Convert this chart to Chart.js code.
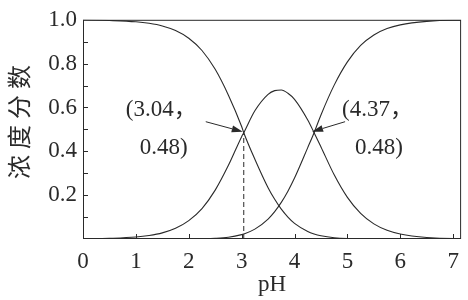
<!DOCTYPE html>
<html>
<head>
<meta charset="utf-8">
<script src="https://cdn.jsdelivr.net/npm/chart.js@4/dist/chart.umd.min.js"></script>
<style>
    html, body { margin: 0; padding: 0; background: #fff; }
</style>
</head>
<body>
<canvas id="myCanvas" width="468" height="300"></canvas>
<script>
'use strict';

// pH values
var ph = [0, 0.5, 1, 1.25, 1.5, 1.75, 2, 2.25, 2.5, 2.75, 3, 3.04, 3.25, 3.5, 3.625, 3.75, 3.875, 4, 4.25, 4.37, 4.5, 4.75, 5, 5.25, 5.5, 5.75, 6, 6.5, 7, 7.15];
// fraction curves (H2A falling, HA- hump, A2- rising)
var h2a = [1.0, 0.997, 0.991, 0.984, 0.972, 0.951, 0.916, 0.860, 0.774, 0.656, 0.513, 0.485, 0.364, 0.234, 0.181, 0.136, 0.100, 0.071, 0.034, 0.023, 0.015, 0.006, 0.002, 0.001, 0, 0, 0, 0, 0, 0];
var ha = [0, 0.003, 0.009, 0.016, 0.028, 0.049, 0.084, 0.139, 0.223, 0.336, 0.467, 0.485, 0.585, 0.660, 0.677, 0.680, 0.665, 0.637, 0.543, 0.485, 0.420, 0.293, 0.190, 0.117, 0.069, 0.040, 0.023, 0.007, 0.002, 0.002];
var a2 = [0, 0, 0, 0, 0, 0, 0, 0.001, 0.003, 0.008, 0.020, 0.023, 0.045, 0.091, 0.125, 0.167, 0.218, 0.278, 0.417, 0.485, 0.566, 0.702, 0.808, 0.883, 0.931, 0.960, 0.977, 0.993, 0.998, 0.998];

// dashed drop line at the first crossing
var dropX = [3.04, 3.04];
var dropY = [0, 0.485];

// marked points and their labels
var marks = [
    { x: 3.04, y: 0.485, lines: ['(3.04，', '0.48)'] },
    { x: 4.37, y: 0.485, lines: ['(4.37，', '0.48)'] }
];

var xTicks = [0, 1, 2, 3, 4, 5, 6, 7];
var yMinor = [0.1, 0.2, 0.3, 0.4, 0.5, 0.6, 0.7, 0.8, 0.9];
var yTitle = '浓度分数';
var xTitle = 'pH';

var ink = '#2a2a2a';
var serif = "'Liberation Serif', 'Noto Sans CJK SC', serif";

function pts(xs, ys) {
    return xs.map(function (x, i) { return { x: x, y: ys[i] }; });
}

function curve(ys) {
    return {
        data: pts(ph, ys),
        borderColor: ink,
        borderWidth: 1.1,
        pointRadius: 0,
        fill: false,
        cubicInterpolationMode: 'monotone'
    };
}

function arrow(ctx, x1, y1, x2, y2) {
    var a = Math.atan2(y2 - y1, x2 - x1), len = 11, w = 3.5;
    ctx.beginPath();
    ctx.moveTo(x1, y1);
    ctx.lineTo(x2 - Math.cos(a) * len, y2 - Math.sin(a) * len);
    ctx.stroke();
    ctx.beginPath();
    ctx.moveTo(x2, y2);
    ctx.lineTo(x2 - Math.cos(a) * len - Math.sin(a) * w, y2 - Math.sin(a) * len + Math.cos(a) * w);
    ctx.lineTo(x2 - Math.cos(a) * len + Math.sin(a) * w, y2 - Math.sin(a) * len - Math.cos(a) * w);
    ctx.closePath();
    ctx.fill();
}

// frame, inward ticks, y title and the two callouts
var decor = {
    id: 'decor',
    afterDatasetsDraw: function (chart) {
        var ctx = chart.ctx, area = chart.chartArea,
            xs = chart.scales.x, ys = chart.scales.y;
        ctx.save();
        ctx.strokeStyle = ink;
        ctx.fillStyle = ink;
        ctx.lineWidth = 1;
        ctx.strokeRect(area.left + 0.5, area.top + 0.5, area.right - area.left - 1, area.bottom - area.top - 1);

        ctx.beginPath();
        xTicks.forEach(function (v) {
            var px = Math.round(xs.getPixelForValue(v)) + 0.5;
            ctx.moveTo(px, area.bottom);
            ctx.lineTo(px, area.bottom - 5);
        });
        yMinor.forEach(function (v) {
            var py = Math.round(ys.getPixelForValue(v)) + 0.5;
            ctx.moveTo(area.left, py);
            ctx.lineTo(area.left + 5, py);
        });
        ctx.stroke();

        // y title, spaced characters
        ctx.save();
        ctx.translate(19, 122);
        ctx.rotate(-Math.PI / 2);
        ctx.font = "24px 'Noto Sans CJK SC'";
        ctx.textAlign = 'center';
        ctx.textBaseline = 'middle';
        var pitch = 30;
        for (var i = 0; i < yTitle.length; i++) {
            ctx.fillText(yTitle[i], (i - (yTitle.length - 1) / 2) * pitch, 0);
        }
        ctx.restore();

        // callouts
        ctx.font = '23px ' + serif;
        ctx.textBaseline = 'alphabetic';
        ctx.textAlign = 'left';
        marks.forEach(function (m, k) {
            var px = xs.getPixelForValue(m.x), py = ys.getPixelForValue(m.y);
            if (k === 0) {
                ctx.fillText(m.lines[0], px - 118, py - 17);
                ctx.fillText(m.lines[1], px - 104, py + 21);
                arrow(ctx, px - 38, py - 11, px - 1, py - 1);
            } else {
                ctx.fillText(m.lines[0], px + 28, py - 17);
                ctx.fillText(m.lines[1], px + 41, py + 21);
                arrow(ctx, px + 31, py - 11, px - 2, py - 1);
            }
        });
        ctx.restore();
    }
};

var ctx = document.getElementById('myCanvas').getContext('2d');
var myChart = new Chart(ctx, {
    type: 'line',
    data: {
        datasets: [
            curve(h2a),
            curve(ha),
            curve(a2),
            {
                data: pts(dropX, dropY),
                borderColor: ink,
                borderWidth: 1,
                borderDash: [5, 3],
                pointRadius: 0,
                fill: false
            }
        ]
    },
    options: {
        responsive: false,
        animation: false,
        devicePixelRatio: 1,
        layout: { padding: { top: 13, right: 4, left: 0, bottom: 0 } },
        plugins: {
            legend: { display: false },
            tooltip: { enabled: false }
        },
        scales: {
            x: {
                type: 'linear',
                min: 0,
                max: 7.15,
                grid: { display: false, drawTicks: false },
                border: { display: false },
                ticks: {
                    stepSize: 1,
                    includeBounds: false,
                    padding: 9,
                    color: ink,
                    font: { family: serif, size: 23 },
                    maxRotation: 0
                },
                title: {
                    display: true,
                    text: xTitle,
                    color: ink,
                    font: { family: serif, size: 23 },
                    padding: { top: 0, bottom: 1 }
                },
                afterFit: function (scale) { scale.height = 61; }
            },
            y: {
                min: 0,
                max: 1,
                grid: { display: false, drawTicks: false },
                border: { display: false },
                ticks: {
                    stepSize: 0.2,
                    padding: 6,
                    color: ink,
                    font: { family: serif, size: 23 },
                    callback: function (v) { return v === 0 ? '' : v.toFixed(1); }
                },
                afterFit: function (scale) { scale.width = 83; }
            }
        }
    },
    plugins: [decor]
});
</script>
</body>
</html>
